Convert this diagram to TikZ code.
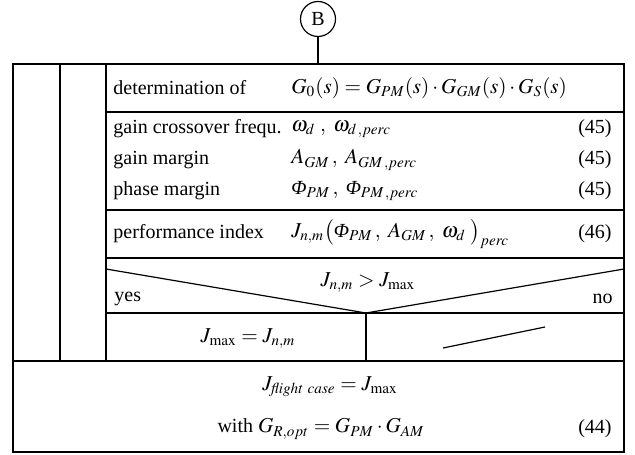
\documentclass[tikz,border=0pt]{standalone}
\usepackage{amsmath}
\usepackage{mathptmx}
\usepackage[no-math]{fontspec}
\setmainfont{Liberation Serif}
\DeclareMathSizes{10}{10.6}{7.6}{5.6}
\usepackage{tikz}
\usetikzlibrary{positioning, calc}
\newcommand{\PhiIt}{\text{\itshape Φ}}

\begin{document}
\begin{tikzpicture}[
  x=0.5pt, y=-0.5pt,
  font=\normalsize,
  frame/.style={line width=1pt, black},
  rule/.style={line width=0.6pt, black},
  connector/.style={draw, circle, line width=0.6pt, minimum size=17.5pt, inner sep=0pt},
  lbl/.style={anchor=west, inner sep=0pt},
  eqn/.style={anchor=west, inner sep=0pt},
  eqno/.style={anchor=east, inner sep=0pt}
]
\useasboundingbox (0,0) rectangle (635,454);

% Connector on top
\node[connector] (conB) at (318,19) {B};
\coordinate (entry) at (318,64);
\draw[rule] (conB) -- (entry);

% Outer frame and loop columns
\draw[frame] (13,64) rectangle (624,452);
\draw[frame] (60,64) -- (60,361);
\draw[frame] (106,64) -- (106,361);
\draw[frame] (13,361) -- (624,361);

% Rows of the inner block
\draw[rule] (106,112) -- (624,112);
\draw[rule] (106,210) -- (624,210);
\draw[rule] (106,258) -- (624,258);

% Decision
\coordinate (vtip) at (366,313);
\draw[rule] (106,269) -- (vtip) -- (624,269);
\draw[rule] (106,313) -- (624,313);
\draw[rule] (vtip) -- (366,361);
\draw[rule] (443,348) -- (545,327);

% Texts
\node[lbl] (det) at (113,88) {determination of};
\node[eqn] (detf) at (291,88) {$G_0(s)=G_{PM}(s)\cdot G_{GM}(s)\cdot G_S(s)$};

\node[lbl] (gcf) at (113,129) {gain crossover frequ.};
\node[eqn] (gcfe) at (291,129) {$\omega_{d}\;,\ \omega_{d\,,perc}$};
\node[eqno] (n1) at (612,129) {(45)};

\node[lbl] (gm) at (113,160) {gain margin};
\node[eqn] (gme) at (291,160) {$A_{GM}\,,\ A_{GM\,,perc}$};
\node[eqno] (n2) at (612,160) {(45)};

\node[lbl] (pm) at (113,191) {phase margin};
\node[eqn] (pme) at (291,191) {$\PhiIt_{PM}\,,\ \PhiIt_{PM\,,perc}$};
\node[eqno] (n3) at (612,191) {(45)};

\node[lbl] (pi) at (113,234) {performance index};
\node[eqn] (pie) at (291,234) {$J_{n,m}\bigl(\PhiIt_{PM}\,,\ A_{GM}\,,\ \omega_{d}\;\bigr)_{perc}$};
\node[eqno] (n4) at (612,234) {(46)};

\node (cond) at (368,283) {$J_{n,m}>J_{\max}$};
\node[lbl] (yes) at (114,299) {yes};
\node[eqno] (no) at (613,299) {no};

\node (upd) at (248,339) {$J_{\max}=J_{n,m}$};

\node (jfc) at (330,387) {$J_{\mathit{flight\ case}}=J_{\max}$};
\node (gro) at (321,429) {with $G_{R,opt}=G_{PM}\cdot G_{AM}$};
\node[eqno] (n5) at (612,429) {(44)};

\end{tikzpicture}
\end{document}
